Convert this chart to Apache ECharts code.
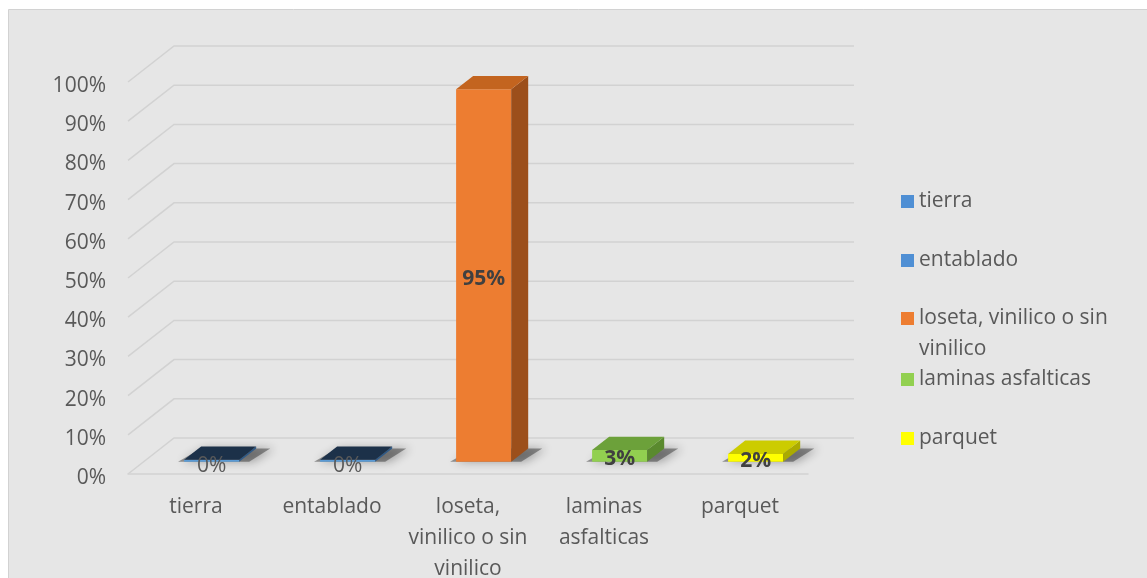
<!DOCTYPE html>
<html>
<head>
<meta charset="utf-8">
<script src="https://cdn.jsdelivr.net/npm/echarts@6/dist/echarts.min.js"></script>
<style>
  html, body { margin: 0; padding: 0; background: #ffffff; }
  #chart { width: 1147px; height: 578px; }
</style>
</head>
<body>
<div id="chart"></div>
<script>
const categories = ['tierra', 'entablado', 'loseta, vinilico o sin vinilico', 'laminas asfalticas', 'parquet'];
const values = [0, 0, 0.95, 0.03, 0.02];
const yTicks = [0, 0.1, 0.2, 0.3, 0.4, 0.5, 0.6, 0.7, 0.8, 0.9, 1.0];
const axisLabels = ['tierra', 'entablado', 'loseta,\nvinilico o sin\nvinilico', 'laminas\nasfalticas', 'parquet'];
// the wrapped entry gets a blank first line so its marker lines up with 'loseta'
const legendLabels = ['tierra', 'entablado', '\u00a0\nloseta, vinilico o sin\nvinilico', 'laminas asfalticas', 'parquet'];

// front / top / side colours per category
const palette = [
  { front: '#5b9bd5', top: '#1c3149', side: '#2e5a88', legend: '#4f8fd4' },
  { front: '#5b9bd5', top: '#1c3149', side: '#2e5a88', legend: '#4f8fd4' },
  { front: '#ed7d31', top: '#c3641f', side: '#9c4f1b', legend: '#ed7d31' },
  { front: '#92d050', top: '#6ca13a', side: '#5a8a2e', legend: '#92d050' },
  { front: '#ffff00', top: '#cccc00', side: '#abab00', legend: '#ffff00' }
];

const FONT = '"Open Sans", "Noto Sans", sans-serif';
const TEXT = '#595959';
// perspective offset of the back wall, and where the bars sit in depth
const DX = 46, DY = -36;
const F1 = 0.34, F2 = 0.71;

function renderWall(params, api) {
  const cs = params.coordSys;
  const y = api.coord([0, api.value(1)])[1];
  return {
    type: 'polyline',
    shape: { points: [[cs.x, y], [cs.x + DX, y + DY], [cs.x + cs.width + DX, y + DY]] },
    style: { stroke: '#d2d2d2', lineWidth: 1.5, fill: null },
    silent: true
  };
}

function renderBar(params, api) {
  const i = api.value(0);
  const v = api.value(1);
  const c = palette[i];
  const base = api.coord([i, 0]);
  const top = api.coord([i, v]);
  const band = api.size([1, 0])[0];
  const w = band * 0.405;
  const ddx = (F2 - F1) * DX, ddy = (F2 - F1) * DY;
  const x0 = base[0] - w / 2 + F1 * DX;
  const x1 = x0 + w;
  const yb = base[1] + F1 * DY;
  let yt = top[1] + F1 * DY;
  if (yb - yt < 2) yt = yb - 2;

  return {
    type: 'group',
    children: [
      { // soft floor shadow
        type: 'polygon',
        shape: { points: [[x0 - 6, yb], [x1 + 10, yb], [x1 + ddx + 14, yb + ddy], [x0 + ddx, yb + ddy]] },
        style: { fill: 'rgba(40,40,40,0.45)', shadowBlur: 10, shadowColor: 'rgba(0,0,0,0.7)', shadowOffsetX: 4 }
      },
      {
        type: 'rect',
        shape: { x: x0, y: yt, width: w, height: yb - yt },
        style: { fill: c.front }
      },
      {
        type: 'polygon',
        shape: { points: [[x1, yt], [x1 + ddx, yt + ddy], [x1 + ddx, yb + ddy], [x1, yb]] },
        style: { fill: c.side }
      },
      {
        type: 'polygon',
        shape: { points: [[x0, yt], [x1, yt], [x1 + ddx, yt + ddy], [x0 + ddx, yt + ddy]] },
        style: { fill: c.top }
      },
      {
        type: 'text',
        x: (x0 + x1) / 2,
        y: (yt + yb) / 2 + (v > 0 ? 3 : 5),
        style: {
          text: Math.round(v * 100) + '%',
          align: 'center',
          verticalAlign: 'middle',
          fontFamily: FONT,
          fontSize: 21,
          fontWeight: v > 0 ? 'bold' : 'normal',
          fill: v > 0 ? '#404040' : TEXT
        }
      }
    ]
  };
}

// legend entries sit at fixed rows
const legendTops = [186, 245, 272, 364, 423];
const legends = categories.map(function (name, k) {
  return {
    data: [{ name: name }],
    orient: 'vertical',
    left: 901,
    top: legendTops[k],
    padding: 0,
    icon: 'rect',
    itemWidth: 13,
    itemHeight: 13,
    formatter: function () { return legendLabels[k]; },
    textStyle: {
      fontFamily: FONT,
      fontSize: 21,
      color: TEXT,
      lineHeight: 31
    }
  };
});

const series = [{
  type: 'custom',
  name: 'walls',
  renderItem: renderWall,
  data: yTicks.map(function (t) { return [0, t]; }),
  silent: true,
  z: 1
}];
categories.forEach(function (name, i) {
  series.push({
    type: 'custom',
    name: name,
    renderItem: renderBar,
    itemStyle: { color: palette[i].legend },
    data: [[i, values[i]]],
    z: 3
  });
});

const option = {
  backgroundColor: '#ffffff',
  animation: false,
  graphic: [{
    type: 'rect',
    shape: { x: 8.5, y: 9.5, width: 1160, height: 600 },
    style: { fill: '#e6e6e6', stroke: '#d2d2d2', lineWidth: 1 },
    z: -10,
    silent: true
  }],
  grid: { left: 128, right: 339, top: 82, bottom: 104, outerBoundsMode: 'none', containLabel: false },
  legend: legends,
  xAxis: {
    type: 'category',
    data: categories,
    axisLine: { show: true, lineStyle: { color: '#d2d2d2', width: 1.5 } },
    axisTick: { show: false },
    axisLabel: {
      margin: 18,
      fontFamily: FONT,
      fontSize: 21,
      color: TEXT,
      lineHeight: 31,
      interval: 0,
      formatter: function (val, idx) { return axisLabels[idx]; }
    },
    splitLine: { show: false }
  },
  yAxis: {
    type: 'value',
    min: 0,
    max: 1,
    interval: 0.1,
    axisLine: { show: false },
    axisTick: { show: false },
    splitLine: { show: false },
    axisLabel: {
      margin: 22,
      verticalAlign: 'top',
      lineHeight: 8,
      fontFamily: FONT,
      fontSize: 21,
      color: TEXT,
      formatter: function (v) { return Math.round(v * 100) + '%'; }
    }
  },
  series: series
};

const chart = echarts.init(document.getElementById('chart'));
chart.setOption(option);
</script>
</body>
</html>
